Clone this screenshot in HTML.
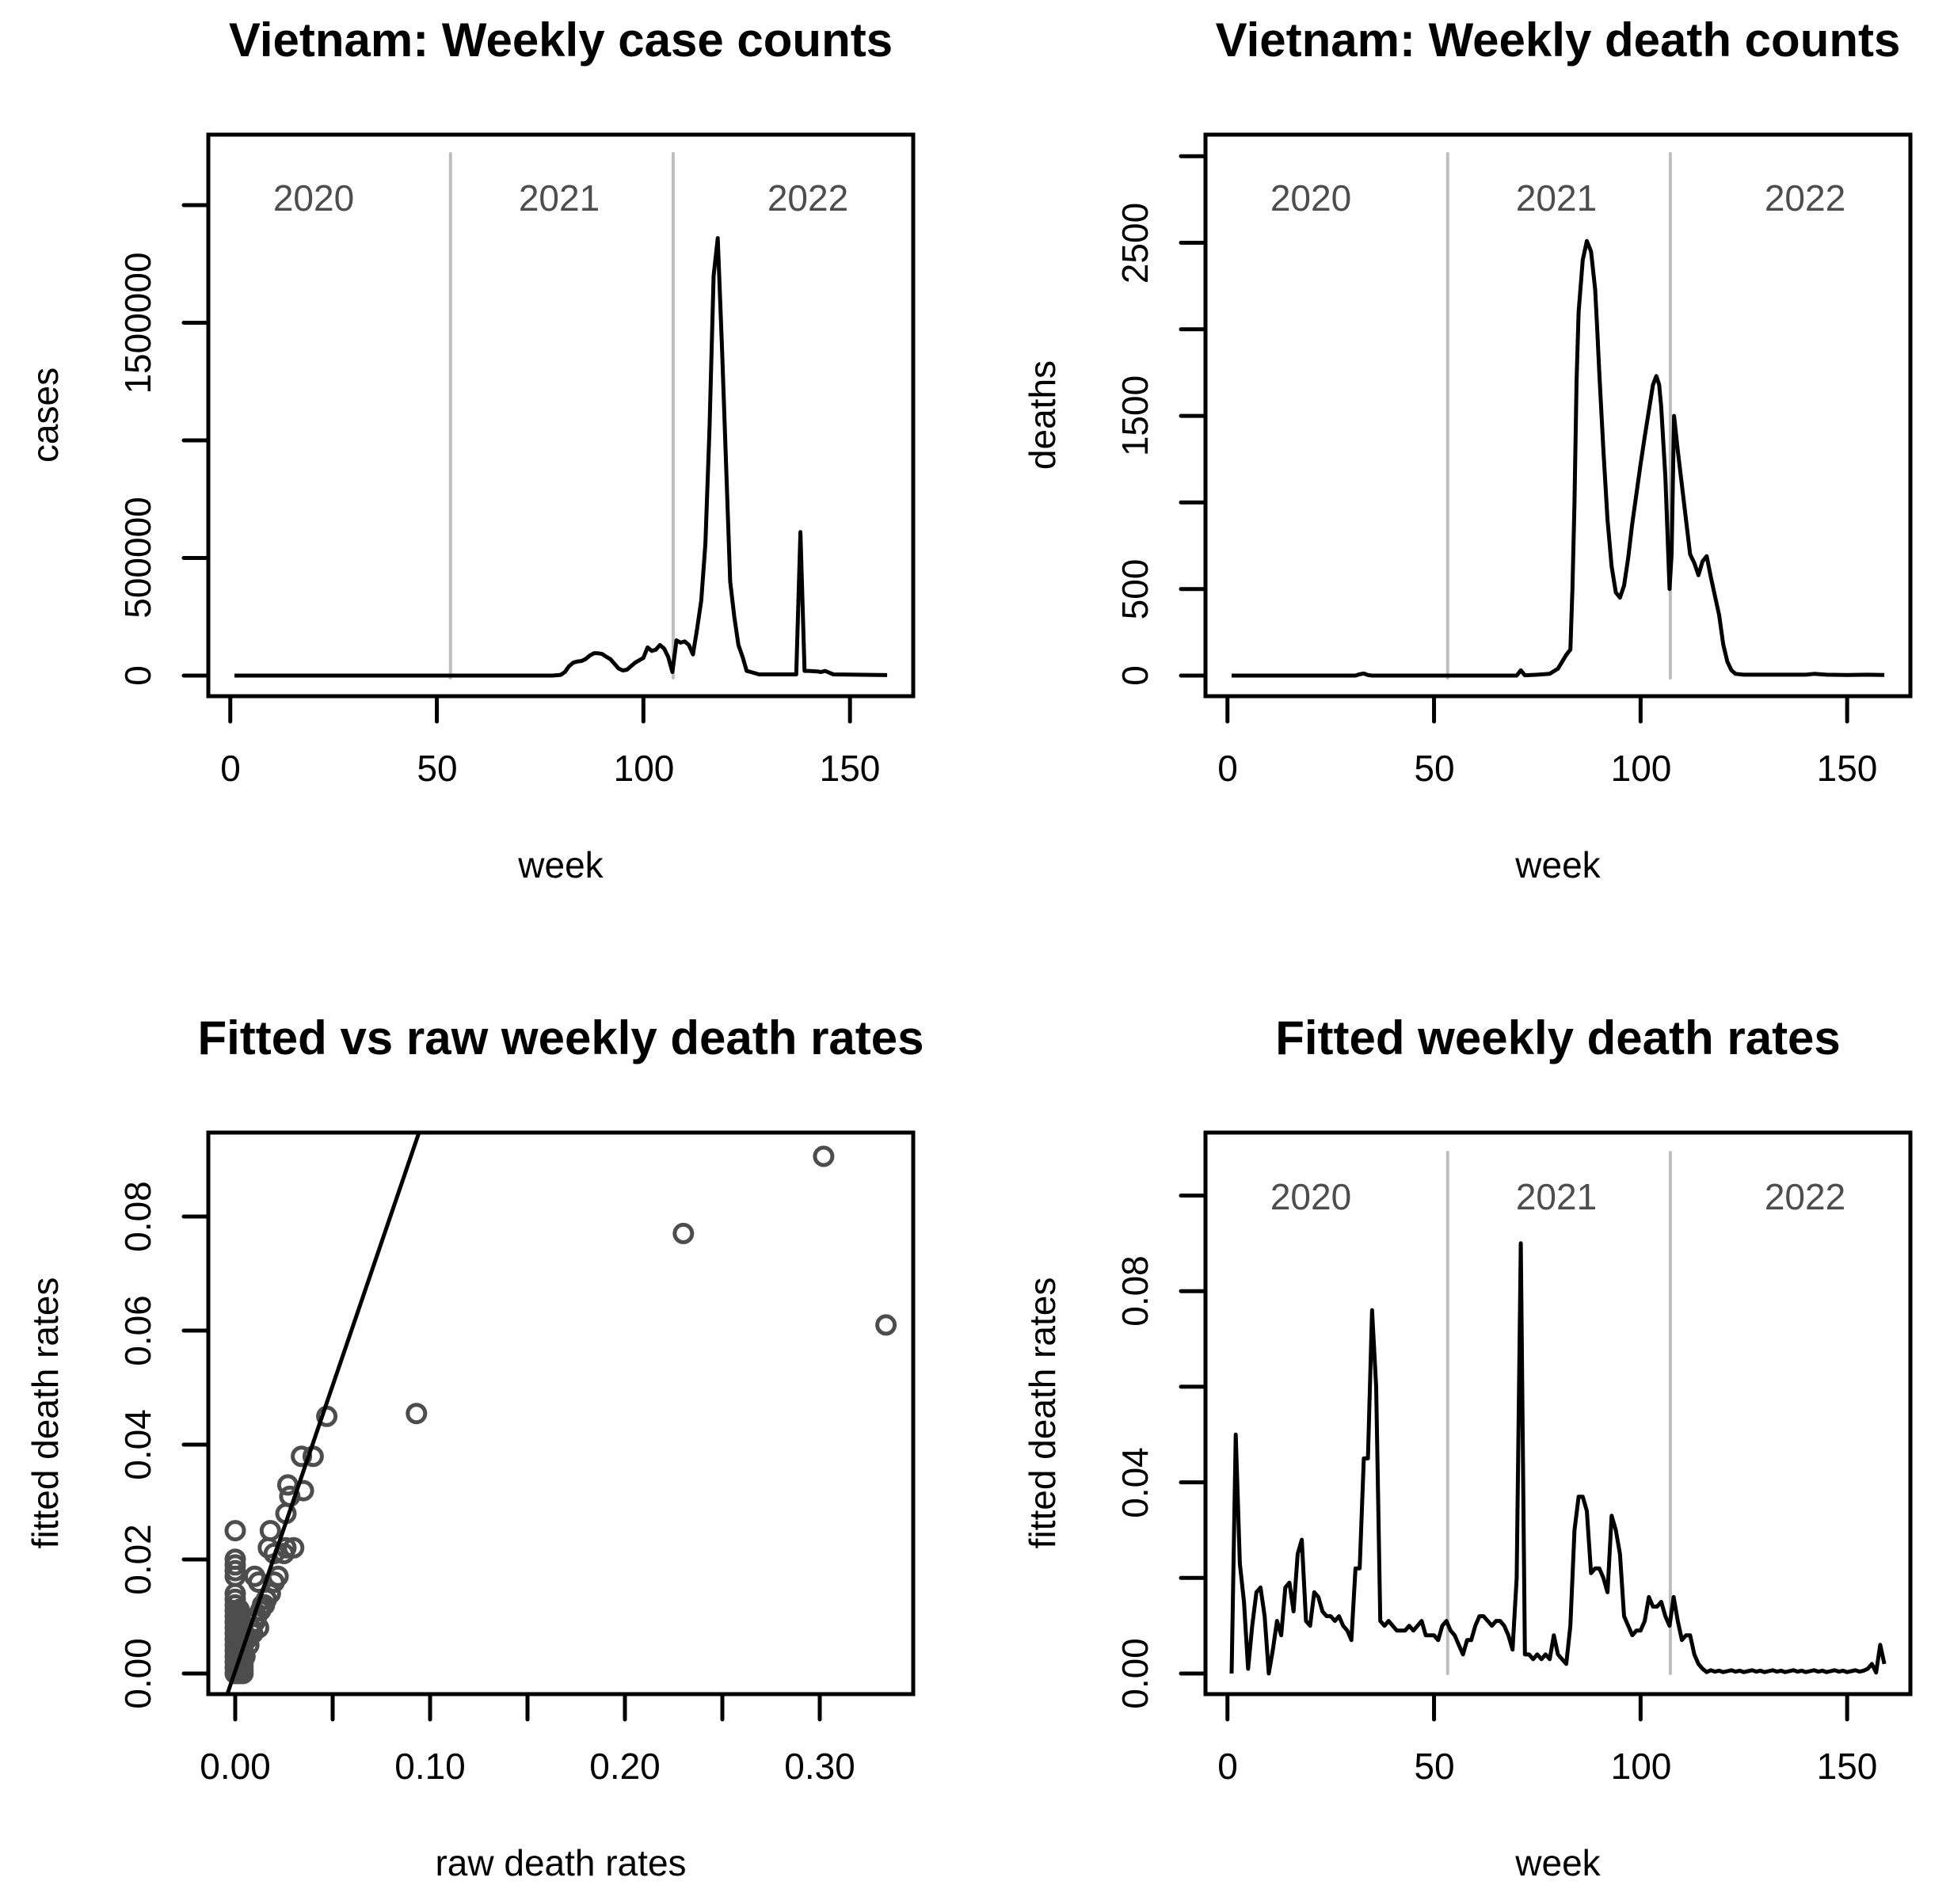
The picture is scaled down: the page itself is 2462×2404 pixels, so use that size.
<!DOCTYPE html>
<html><head><meta charset="utf-8"><style>
html,body{margin:0;padding:0;background:#fff}
svg{display:block}
text{font-family:"Liberation Sans",Arial,sans-serif;fill:#000}
.t{font-size:60px;font-weight:bold;text-anchor:middle}
.k{font-size:46px;text-anchor:middle}
.y{font-size:46px;fill:#4d4d4d;text-anchor:middle}
</style></head><body>
<svg id="s" xmlns="http://www.w3.org/2000/svg" width="2462" height="2404" viewBox="0 0 2462 2404">
<rect width="2462" height="2404" fill="#fff"/>
<g id="g"></g>
<text class="t" x="708" y="71">Vietnam: Weekly case counts</text>
<text class="t" x="1967" y="71">Vietnam: Weekly death counts</text>
<text class="t" x="708" y="1331">Fitted vs raw weekly death rates</text>
<text class="t" x="1967" y="1331">Fitted weekly death rates</text>
<text class="k" x="291" y="986">0</text><text class="k" x="552" y="986">50</text><text class="k" x="813" y="986">100</text><text class="k" x="1073" y="986">150</text>
<text class="k" x="708" y="1108">week</text>
<text class="k" transform="translate(73,524) rotate(-90)">cases</text>
<text class="k" transform="translate(190,853) rotate(-90)">0</text>
<text class="k" transform="translate(190,704) rotate(-90)">500000</text>
<text class="k" transform="translate(190,408) rotate(-90)">1500000</text>
<text class="y" x="396" y="266">2020</text><text class="y" x="706" y="266">2021</text><text class="y" x="1020" y="266">2022</text>
<text class="k" x="1550" y="986">0</text><text class="k" x="1811" y="986">50</text><text class="k" x="2072" y="986">100</text><text class="k" x="2332" y="986">150</text>
<text class="k" x="1967" y="1108">week</text>
<text class="k" transform="translate(1332,524) rotate(-90)">deaths</text>
<text class="k" transform="translate(1449,853) rotate(-90)">0</text>
<text class="k" transform="translate(1449,744) rotate(-90)">500</text>
<text class="k" transform="translate(1449,525) rotate(-90)">1500</text>
<text class="k" transform="translate(1449,307) rotate(-90)">2500</text>
<text class="y" x="1655" y="266">2020</text><text class="y" x="1965" y="266">2021</text><text class="y" x="2279" y="266">2022</text>
<text class="k" x="297" y="2246">0.00</text><text class="k" x="543" y="2246">0.10</text><text class="k" x="789" y="2246">0.20</text><text class="k" x="1035" y="2246">0.30</text>
<text class="k" x="708" y="2368">raw death rates</text>
<text class="k" transform="translate(73,1784) rotate(-90)">fitted death rates</text>
<text class="k" transform="translate(190,2113) rotate(-90)">0.00</text>
<text class="k" transform="translate(190,1969) rotate(-90)">0.02</text>
<text class="k" transform="translate(190,1824) rotate(-90)">0.04</text>
<text class="k" transform="translate(190,1680) rotate(-90)">0.06</text>
<text class="k" transform="translate(190,1536) rotate(-90)">0.08</text>
<text class="k" x="1550" y="2246">0</text><text class="k" x="1811" y="2246">50</text><text class="k" x="2072" y="2246">100</text><text class="k" x="2332" y="2246">150</text>
<text class="k" x="1967" y="2368">week</text>
<text class="k" transform="translate(1332,1784) rotate(-90)">fitted death rates</text>
<text class="k" transform="translate(1449,2113) rotate(-90)">0.00</text>
<text class="k" transform="translate(1449,1872) rotate(-90)">0.04</text>
<text class="k" transform="translate(1449,1630) rotate(-90)">0.08</text>
<text class="y" x="1655" y="1527">2020</text><text class="y" x="1965" y="1527">2021</text><text class="y" x="2279" y="1527">2022</text>
</svg>
<script>
var g=document.getElementById('g'),o='';
function X(w,dx){return 263+(w+5.32)*5.216+dx;}
function line(x1,y1,x2,y2,c,sw){o+='<line x1="'+x1+'" y1="'+y1+'" x2="'+x2+'" y2="'+y2+'" stroke="'+(c||'#000')+'" stroke-width="'+(sw||5)+'" stroke-linecap="round"/>';}
function box(dx,dy){o+='<rect x="'+(263+dx)+'" y="'+(170+dy)+'" width="890" height="709" fill="none" stroke="#000" stroke-width="5"/>';}
function poly(pts,dx,f){var s=pts.map(function(p){return X(p[0],dx).toFixed(1)+','+f(p[1]).toFixed(1);}).join(' ');o+='<polyline points="'+s+'" fill="none" stroke="#000" stroke-width="5" stroke-linejoin="round"/>';}
function waxis(dx,dy){[0,50,100,150].forEach(function(w){var x=X(w,dx);line(x,879+dy,x,911+dy);});}
function grey(dx,top,bot){[53.3,107.2].forEach(function(w){var x=X(w,dx);line(x,top,x,bot,'#bebebe',4);});}
grey(0,194,856);
[853,704.5,556,407.5,259].forEach(function(y){line(232,y,263,y);});
waxis(0,0);
var cases=[[1,0],[78,0],[80,3000],[81,15000],[82,40000],[83,55000],[84,60000],[85,62000],[86,70000],[87,85000],[88,95000],[89,95000],[90,92000],[91,80000],[92,70000],[93,50000],[94,30000],[95,22000],[96,25000],[97,40000],[98,55000],[99,65000],[100,75000],[101,120000],[102,105000],[103,110000],[104,130000],[105,115000],[106,80000],[107,15000],[108,150000],[109,140000],[110,145000],[111,130000],[112,90000],[113,200000],[114,320000],[115,560000],[116,1050000],[117,1700000],[118,1860000],[119,1400000],[120,900000],[121,400000],[122,250000],[123,130000],[124,80000],[125,20000],[126,15000],[128,5000],[137,5000],[138,610000],[139,20000],[140,20000],[142,18000],[143,15000],[144,20000],[145,12000],[146,5000],[159,2000]];
poly(cases,0,function(c){return 853-c/500000*148.5;});
grey(1259,194,856);
[0,500,1000,1500,2000,2500,3000].forEach(function(d){var y=853-d/500*109.3;line(1491,y,1522,y);});
waxis(1259,0);
var deaths=[[1,0],[31,0],[32,8],[33,12],[34,3],[35,0],[70,0],[71,30],[72,2],[75,5],[78,10],[80,40],[82,120],[83,150],[83.5,500],[84,1000],[84.5,1700],[85,2100],[86,2400],[87,2510],[88,2450],[89,2230],[89.5,2000],[90,1750],[91,1300],[92,900],[93,630],[94,480],[95,450],[96,520],[97,680],[98,880],[99,1050],[100,1220],[101,1380],[102,1530],[103,1680],[103.8,1730],[104.5,1680],[105,1550],[106,1150],[106.7,700],[107,500],[107.5,700],[108.1,1500],[109,1300],[110,1100],[111,900],[112,700],[113,650],[114,580],[115,660],[116,690],[117,570],[118,460],[119,350],[120,180],[121,80],[122,30],[123,10],[125,5],[140,5],[142,10],[145,5],[150,3],[155,5],[159,3]];
poly(deaths,1259,function(d){return 853-d/500*109.3;});
var DY=1260;
[2113,1969,1824,1680,1536].forEach(function(y){line(232,y,263,y);});
[0,0.05,0.1,0.15,0.2,0.25,0.3].forEach(function(v){var x=297+v*2460;line(x,2139,x,2171);});
function sx(v){return 297+v*2460;} function sy(v){return 2113-v*7215;}
var pts=[[0.047,0.045],[0.093,0.0455],[0.23,0.077],[0.302,0.0905],[0.334,0.061],[0,0.025],[0,0.020],[0,0.019],[0,0.018],[0,0.017],[0.010,0.017],[0.012,0.016],[0.018,0.025],[0.017,0.022],[0.020,0.021],[0.022,0.017],[0.026,0.022],[0.025,0.021],[0.030,0.022],[0.027,0.033],[0.028,0.031],[0.026,0.028],[0.035,0.032],[0.034,0.038],[0.040,0.038],[0.016,0.013],[0.018,0.014],[0.015,0.012],[0.013,0.011],[0.010,0.009],[0.008,0.008],[0.006,0.006],[0.004,0.004],[0.003,0.002],[0.002,0.001],[0.005,0.003],[0.007,0.005],[0.009,0.007],[0.011,0.01],[0.012,0.008],[0.014,0.012],[0.02,0.016],[0.003,0.0005],[0.001,0]];
for(var i=0;i<=14;i++){pts.push([0,i*0.001]);pts.push([0.002,i*0.0008]);pts.push([0.004,i*0.0006]);}
pts.forEach(function(p){o+='<circle cx="'+sx(p[0]).toFixed(1)+'" cy="'+sy(p[1]).toFixed(1)+'" r="11" fill="none" stroke="#4d4d4d" stroke-width="5"/>';});
line(287,2139,529,1430,'#000',5);
grey(1259,1455,2113);
[0,0.02,0.04,0.06,0.08,0.1].forEach(function(v){var y=2113-v*6035;line(1491,y,1522,y);});
waxis(1259,DY);
var fr=[[1,0],[2,0.05],[3,0.023],[4,0.015],[5,0.001],[6,0.01],[7,0.017],[8,0.018],[9,0.012],[10,0],[11,0.005],[12,0.011],[13,0.008],[14,0.018],[15,0.019],[16,0.013],[17,0.025],[18,0.028],[19,0.011],[20,0.01],[21,0.017],[22,0.016],[23,0.013],[24,0.012],[25,0.012],[26,0.011],[27,0.012],[28,0.01],[29,0.009],[30,0.007],[31,0.022],[32,0.022],[33,0.045],[34,0.045],[35,0.076],[36,0.06],[37,0.011],[38,0.01],[39,0.011],[40,0.01],[41,0.009],[42,0.009],[43,0.009],[44,0.01],[45,0.009],[46,0.01],[47,0.011],[48,0.008],[49,0.008],[50,0.008],[51,0.007],[52,0.01],[53,0.011],[54,0.009],[55,0.008],[56,0.006],[57,0.004],[58,0.007],[59,0.007],[60,0.01],[61,0.012],[62,0.012],[63,0.011],[64,0.01],[65,0.011],[66,0.011],[67,0.01],[68,0.008],[69,0.005],[70,0.02],[71,0.09],[72,0.004],[73,0.004],[74,0.003],[75,0.004],[76,0.003],[77,0.004],[78,0.003],[79,0.008],[80,0.004],[81,0.003],[82,0.002],[83,0.01],[84,0.03],[85,0.037],[86,0.037],[87,0.034],[88,0.021],[89,0.022],[90,0.022],[91,0.02],[92,0.017],[93,0.033],[94,0.03],[95,0.025],[96,0.012],[97,0.01],[98,0.008],[99,0.009],[100,0.009],[101,0.011],[102,0.016],[103,0.014],[104,0.014],[105,0.015],[106,0.012],[107,0.01],[108,0.016],[109,0.011],[110,0.007],[111,0.008],[112,0.008],[113,0.004],[114,0.002],[115,0.001],[116,0.0003]];
for(var w=117;w<=154;w++)fr.push([w,0.0003+((w*7)%5)*0.0001]);
fr.push([155,0.001],[156,0.002],[157,0.0002],[158,0.006],[159,0.002]);
poly(fr,1259,function(v){return 2113-v*6035;});
box(0,0);box(1259,0);box(0,DY);box(1259,DY);
g.innerHTML=o;
</script>
</body></html>
